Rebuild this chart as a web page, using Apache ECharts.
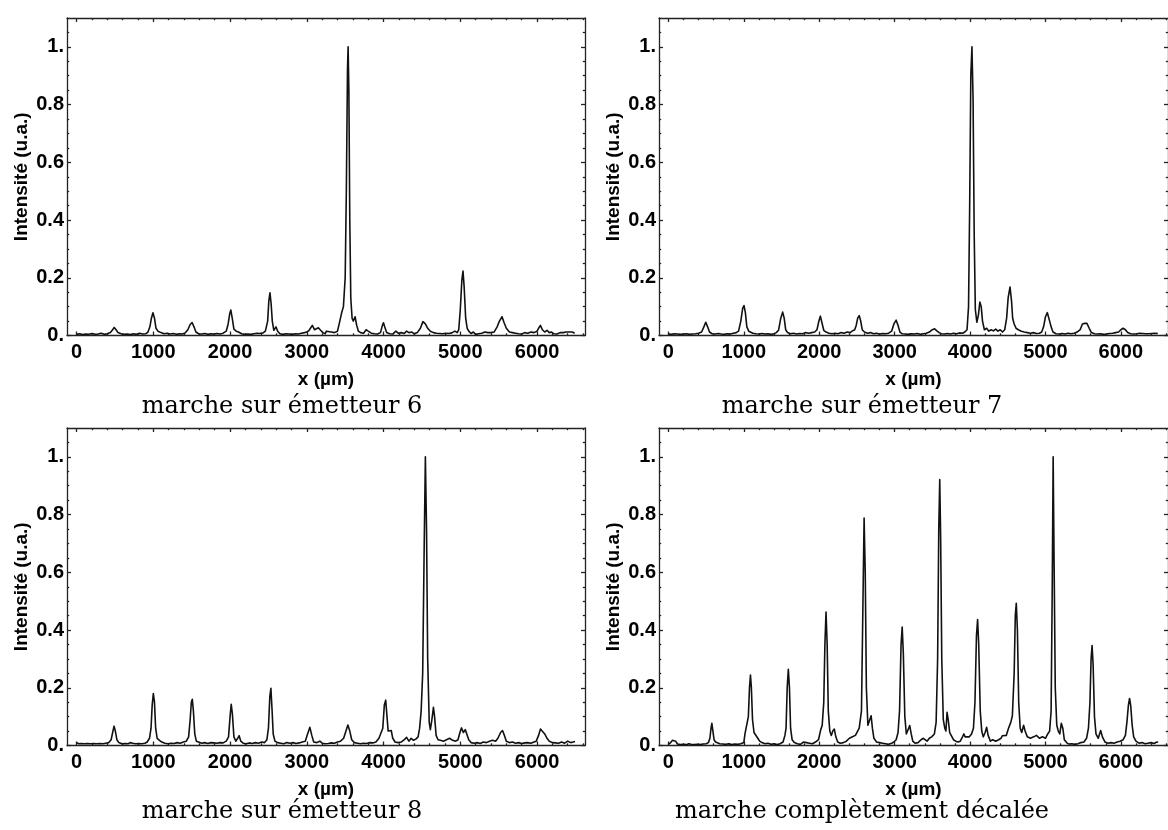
<!DOCTYPE html>
<html>
<head>
<meta charset="utf-8">
<script src="https://cdn.jsdelivr.net/npm/echarts@6/dist/echarts.min.js"></script>
<style>
  html, body { margin: 0; padding: 0; background: #fff; }
  #chart { width: 1168px; height: 830px; }
</style>
</head>
<body>
<div id="chart"></div>
<script>
// Intensity profiles along x (µm), normalised to the brightest peak.
const emetteur6 = [[0,0.004],[40,0.006],[80,0.003],[120,0.005],[160,0.004],[200,0.007],[240,0.004],[280,0.005],[320,0.008],[360,0.004],[400,0.006],[440,0.01],[470,0.02],[490,0.028],[515,0.02],[540,0.01],[580,0.006],[620,0.004],[660,0.005],[700,0.003],[740,0.006],[780,0.004],[820,0.008],[860,0.005],[900,0.006],[930,0.012],[955,0.03],[975,0.06],[995,0.079],[1015,0.06],[1035,0.025],[1060,0.015],[1080,0.018],[1100,0.01],[1140,0.006],[1180,0.008],[1220,0.005],[1260,0.007],[1300,0.004],[1340,0.006],[1380,0.005],[1420,0.01],[1450,0.02],[1480,0.038],[1505,0.045],[1530,0.03],[1555,0.012],[1590,0.006],[1630,0.005],[1670,0.007],[1710,0.004],[1750,0.006],[1790,0.005],[1830,0.007],[1870,0.005],[1910,0.008],[1950,0.015],[1975,0.04],[1995,0.075],[2010,0.088],[2028,0.06],[2050,0.022],[2080,0.015],[2110,0.012],[2150,0.006],[2190,0.004],[2230,0.005],[2270,0.004],[2310,0.006],[2350,0.008],[2390,0.007],[2430,0.009],[2460,0.015],[2490,0.05],[2505,0.12],[2520,0.148],[2535,0.11],[2550,0.05],[2570,0.018],[2598,0.03],[2620,0.015],[2650,0.006],[2690,0.004],[2730,0.006],[2770,0.005],[2810,0.004],[2850,0.006],[2890,0.005],[2930,0.008],[2970,0.01],[3000,0.012],[3030,0.018],[3072,0.035],[3100,0.02],[3150,0.027],[3180,0.018],[3210,0.01],[3240,0.006],[3255,0.015],[3280,0.01],[3320,0.012],[3360,0.01],[3400,0.015],[3430,0.05],[3455,0.08],[3477,0.1],[3500,0.2],[3515,0.5],[3530,0.92],[3538,1.0],[3548,0.85],[3560,0.4],[3573,0.13],[3590,0.06],[3605,0.05],[3629,0.065],[3650,0.035],[3672,0.015],[3700,0.01],[3740,0.008],[3773,0.02],[3800,0.015],[3840,0.008],[3880,0.006],[3920,0.005],[3960,0.01],[3985,0.035],[3999,0.044],[4015,0.03],[4040,0.01],[4080,0.006],[4120,0.005],[4160,0.015],[4190,0.008],[4230,0.01],[4270,0.007],[4300,0.015],[4330,0.01],[4370,0.012],[4400,0.006],[4440,0.01],[4480,0.025],[4513,0.048],[4545,0.04],[4575,0.025],[4610,0.015],[4650,0.01],[4690,0.008],[4730,0.007],[4770,0.006],[4810,0.008],[4850,0.007],[4890,0.009],[4930,0.015],[4960,0.01],[4980,0.02],[5000,0.09],[5020,0.19],[5035,0.223],[5050,0.17],[5070,0.06],[5090,0.025],[5110,0.015],[5140,0.007],[5170,0.012],[5200,0.004],[5240,0.006],[5280,0.008],[5320,0.012],[5360,0.01],[5400,0.01],[5440,0.012],[5480,0.03],[5510,0.05],[5544,0.065],[5570,0.045],[5600,0.025],[5640,0.012],[5680,0.01],[5720,0.008],[5760,0.006],[5800,0.005],[5840,0.01],[5880,0.008],[5920,0.012],[5960,0.01],[6000,0.015],[6020,0.025],[6044,0.035],[6070,0.02],[6100,0.012],[6130,0.018],[6160,0.01],[6190,0.012],[6220,0.006],[6260,0.005],[6300,0.01],[6340,0.01],[6380,0.012],[6420,0.012],[6460,0.012],[6490,0.008]];

const emetteur7 = [[0,0.005],[40,0.004],[80,0.006],[120,0.005],[160,0.004],[200,0.005],[240,0.006],[280,0.004],[320,0.005],[360,0.006],[400,0.008],[440,0.012],[470,0.03],[495,0.046],[520,0.03],[545,0.012],[580,0.006],[620,0.005],[660,0.007],[700,0.005],[740,0.004],[780,0.006],[820,0.005],[860,0.008],[900,0.01],[930,0.015],[960,0.05],[985,0.095],[1002,0.104],[1020,0.08],[1040,0.03],[1065,0.015],[1090,0.012],[1120,0.008],[1160,0.006],[1200,0.005],[1240,0.007],[1280,0.005],[1320,0.006],[1360,0.004],[1400,0.006],[1430,0.01],[1460,0.018],[1490,0.06],[1515,0.081],[1535,0.06],[1555,0.02],[1580,0.01],[1620,0.006],[1660,0.008],[1700,0.005],[1740,0.007],[1780,0.006],[1820,0.01],[1860,0.008],[1900,0.01],[1940,0.012],[1970,0.02],[1995,0.05],[2015,0.067],[2035,0.045],[2060,0.018],[2090,0.012],[2130,0.008],[2170,0.006],[2210,0.008],[2250,0.006],[2290,0.01],[2330,0.008],[2370,0.012],[2410,0.01],[2440,0.016],[2470,0.02],[2490,0.035],[2510,0.06],[2530,0.069],[2550,0.05],[2570,0.02],[2600,0.012],[2640,0.008],[2680,0.01],[2720,0.006],[2760,0.008],[2800,0.005],[2840,0.007],[2880,0.006],[2920,0.008],[2960,0.015],[2990,0.04],[3020,0.053],[3045,0.035],[3070,0.012],[3100,0.006],[3140,0.005],[3180,0.004],[3220,0.006],[3260,0.005],[3300,0.007],[3340,0.004],[3380,0.006],[3420,0.008],[3460,0.012],[3500,0.02],[3530,0.023],[3560,0.016],[3590,0.01],[3620,0.006],[3660,0.005],[3700,0.007],[3740,0.005],[3780,0.008],[3820,0.006],[3860,0.009],[3900,0.008],[3930,0.012],[3960,0.02],[3980,0.1],[3995,0.45],[4010,0.9],[4025,1.0],[4040,0.82],[4055,0.35],[4070,0.09],[4090,0.046],[4110,0.07],[4130,0.116],[4148,0.1],[4165,0.05],[4190,0.02],[4220,0.025],[4250,0.015],[4280,0.02],[4310,0.016],[4340,0.022],[4370,0.015],[4400,0.02],[4430,0.012],[4460,0.02],[4485,0.06],[4505,0.13],[4530,0.168],[4550,0.12],[4565,0.06],[4585,0.04],[4610,0.025],[4640,0.02],[4680,0.015],[4720,0.012],[4760,0.01],[4800,0.008],[4840,0.01],[4880,0.007],[4920,0.008],[4950,0.012],[4975,0.03],[5000,0.065],[5025,0.079],[5050,0.055],[5075,0.03],[5100,0.012],[5140,0.006],[5180,0.005],[5220,0.007],[5260,0.005],[5300,0.008],[5340,0.006],[5380,0.008],[5420,0.012],[5460,0.02],[5490,0.04],[5520,0.042],[5550,0.042],[5580,0.025],[5610,0.01],[5650,0.006],[5690,0.005],[5730,0.006],[5770,0.004],[5810,0.005],[5850,0.007],[5890,0.008],[5930,0.01],[5970,0.012],[6000,0.02],[6030,0.025],[6060,0.02],[6090,0.01],[6130,0.006],[6170,0.005],[6210,0.006],[6250,0.008],[6290,0.007],[6330,0.006],[6370,0.006],[6410,0.007],[6450,0.008],[6490,0.007]];

const emetteur8 = [[0,0.01],[30,0.006],[60,0.007],[100,0.006],[140,0.007],[180,0.006],[220,0.007],[260,0.006],[300,0.007],[340,0.006],[380,0.008],[420,0.01],[450,0.02],[470,0.045],[488,0.067],[505,0.05],[525,0.02],[550,0.01],[590,0.006],[630,0.007],[670,0.006],[700,0.01],[730,0.008],[770,0.006],[810,0.007],[850,0.006],[890,0.008],[920,0.012],[950,0.025],[970,0.06],[985,0.14],[1000,0.18],[1015,0.15],[1030,0.06],[1050,0.025],[1080,0.018],[1110,0.012],[1150,0.008],[1190,0.006],[1230,0.008],[1270,0.007],[1310,0.01],[1350,0.008],[1390,0.012],[1430,0.015],[1460,0.03],[1480,0.09],[1495,0.15],[1508,0.16],[1522,0.12],[1540,0.04],[1560,0.015],[1590,0.012],[1630,0.008],[1670,0.01],[1710,0.007],[1750,0.01],[1790,0.009],[1830,0.008],[1870,0.01],[1910,0.009],[1950,0.015],[1980,0.03],[2000,0.1],[2015,0.143],[2030,0.11],[2050,0.03],[2075,0.015],[2100,0.025],[2118,0.034],[2140,0.015],[2170,0.008],[2210,0.006],[2250,0.009],[2290,0.007],[2330,0.01],[2370,0.008],[2410,0.012],[2450,0.01],[2480,0.02],[2500,0.06],[2518,0.17],[2532,0.198],[2546,0.13],[2562,0.04],[2585,0.015],[2620,0.01],[2660,0.008],[2700,0.006],[2740,0.01],[2780,0.008],[2820,0.01],[2860,0.007],[2900,0.009],[2940,0.012],[2980,0.015],[3010,0.04],[3040,0.063],[3065,0.035],[3090,0.012],[3130,0.01],[3170,0.015],[3200,0.008],[3240,0.006],[3280,0.007],[3320,0.009],[3360,0.008],[3400,0.012],[3440,0.015],[3480,0.025],[3510,0.05],[3535,0.071],[3560,0.05],[3585,0.02],[3620,0.01],[3660,0.008],[3700,0.006],[3740,0.008],[3780,0.007],[3820,0.01],[3860,0.009],[3900,0.012],[3940,0.025],[3965,0.02],[3990,0.06],[4010,0.14],[4028,0.157],[4045,0.1],[4060,0.05],[4080,0.045],[4100,0.052],[4120,0.025],[4150,0.012],[4190,0.01],[4230,0.012],[4270,0.02],[4300,0.028],[4330,0.015],[4360,0.025],[4390,0.018],[4420,0.022],[4450,0.03],[4470,0.06],[4490,0.12],[4510,0.25],[4530,0.7],[4545,1.0],[4560,0.75],[4575,0.3],[4595,0.08],[4610,0.055],[4630,0.09],[4650,0.132],[4665,0.1],[4685,0.035],[4710,0.02],[4740,0.018],[4780,0.015],[4820,0.02],[4860,0.025],[4900,0.018],[4940,0.015],[4970,0.02],[4995,0.045],[5015,0.061],[5040,0.045],[5065,0.055],[5085,0.05],[5110,0.02],[5140,0.01],[5180,0.008],[5220,0.01],[5260,0.007],[5300,0.012],[5340,0.01],[5380,0.015],[5420,0.018],[5460,0.015],[5490,0.025],[5525,0.045],[5550,0.052],[5575,0.035],[5600,0.015],[5640,0.01],[5680,0.012],[5720,0.008],[5760,0.01],[5800,0.007],[5840,0.009],[5880,0.01],[5920,0.008],[5960,0.012],[5990,0.015],[6020,0.035],[6045,0.057],[6070,0.055],[6100,0.04],[6130,0.025],[6160,0.015],[6200,0.01],[6240,0.009],[6280,0.008],[6320,0.012],[6360,0.008],[6400,0.015],[6440,0.01],[6470,0.012],[6495,0.014]];

const decalee = [[0,0.004],[30,0.01],[55,0.018],[73,0.02],[95,0.015],[120,0.005],[160,0.003],[200,0.004],[240,0.003],[270,0.006],[300,0.004],[340,0.003],[380,0.004],[420,0.003],[460,0.005],[500,0.006],[530,0.01],[550,0.025],[565,0.06],[576,0.077],[590,0.05],[605,0.02],[625,0.012],[650,0.01],[680,0.006],[720,0.005],[760,0.004],[800,0.006],[840,0.003],[880,0.005],[920,0.004],[960,0.006],[1000,0.01],[1015,0.04],[1040,0.045],[1060,0.1],[1075,0.2],[1088,0.244],[1100,0.2],[1115,0.09],[1135,0.045],[1161,0.04],[1185,0.025],[1210,0.015],[1240,0.01],[1280,0.006],[1320,0.008],[1360,0.004],[1400,0.006],[1440,0.003],[1480,0.006],[1520,0.012],[1545,0.035],[1560,0.06],[1575,0.2],[1590,0.264],[1605,0.2],[1620,0.06],[1640,0.02],[1670,0.01],[1710,0.006],[1750,0.004],[1790,0.012],[1830,0.01],[1870,0.008],[1910,0.006],[1950,0.012],[1990,0.02],[2020,0.055],[2039,0.069],[2060,0.15],[2075,0.35],[2090,0.462],[2105,0.35],[2120,0.12],[2140,0.05],[2160,0.035],[2180,0.05],[2200,0.057],[2220,0.03],[2245,0.012],[2280,0.008],[2320,0.01],[2360,0.015],[2400,0.025],[2440,0.03],[2480,0.035],[2502,0.04],[2530,0.06],[2560,0.12],[2580,0.5],[2595,0.788],[2610,0.6],[2625,0.2],[2645,0.07],[2660,0.075],[2688,0.103],[2705,0.06],[2725,0.025],[2760,0.012],[2800,0.01],[2840,0.008],[2880,0.006],[2920,0.004],[2960,0.008],[2990,0.012],[3020,0.02],[3045,0.045],[3065,0.12],[3085,0.35],[3100,0.41],[3115,0.32],[3135,0.1],[3155,0.04],[3175,0.035],[3200,0.069],[3220,0.04],[3240,0.015],[3270,0.008],[3310,0.01],[3350,0.02],[3380,0.025],[3405,0.029],[3430,0.015],[3460,0.025],[3490,0.03],[3527,0.04],[3550,0.08],[3570,0.3],[3585,0.75],[3598,0.921],[3610,0.72],[3625,0.3],[3645,0.09],[3665,0.06],[3680,0.05],[3695,0.115],[3710,0.09],[3730,0.045],[3755,0.045],[3780,0.02],[3810,0.015],[3840,0.012],[3870,0.015],[3900,0.03],[3917,0.04],[3935,0.03],[3960,0.025],[3990,0.03],[4020,0.04],[4045,0.06],[4065,0.15],[4085,0.38],[4100,0.436],[4115,0.35],[4135,0.12],[4155,0.05],[4175,0.03],[4200,0.045],[4220,0.063],[4240,0.035],[4270,0.015],[4300,0.02],[4340,0.015],[4380,0.02],[4410,0.025],[4429,0.034],[4450,0.03],[4480,0.035],[4510,0.06],[4540,0.08],[4561,0.103],[4585,0.25],[4600,0.45],[4613,0.493],[4628,0.4],[4645,0.15],[4665,0.06],[4685,0.045],[4710,0.07],[4730,0.05],[4760,0.03],[4800,0.025],[4844,0.03],[4880,0.035],[4920,0.025],[4960,0.03],[5000,0.025],[5030,0.04],[5055,0.05],[5075,0.12],[5090,0.55],[5102,1.0],[5115,0.62],[5130,0.2],[5150,0.07],[5170,0.05],[5190,0.04],[5210,0.077],[5230,0.06],[5250,0.02],[5280,0.01],[5310,0.005],[5350,0.006],[5390,0.004],[5430,0.006],[5470,0.01],[5510,0.012],[5545,0.025],[5570,0.06],[5590,0.15],[5605,0.3],[5618,0.346],[5632,0.28],[5650,0.1],[5670,0.04],[5700,0.025],[5732,0.052],[5755,0.03],[5790,0.012],[5830,0.008],[5870,0.01],[5910,0.008],[5950,0.012],[5990,0.015],[6030,0.02],[6060,0.035],[6080,0.08],[6100,0.14],[6115,0.163],[6130,0.14],[6150,0.07],[6170,0.03],[6200,0.015],[6240,0.008],[6280,0.01],[6320,0.006],[6360,0.008],[6400,0.01],[6440,0.007],[6470,0.011],[6495,0.012]];

const panelData = [emetteur6, emetteur7, emetteur8, decalee];
const panelTitles = ['marche sur émetteur 6', 'marche sur émetteur 7', 'marche sur émetteur 8', 'marche complètement décalée'];

// Tick positions and labels
const xMajorTicks = [0, 1000, 2000, 3000, 4000, 5000, 6000];
const xMinorTicks = [200, 400, 600, 800, 1200, 1400, 1600, 1800, 2200, 2400, 2600, 2800, 3200, 3400, 3600, 3800, 4200, 4400, 4600, 4800, 5200, 5400, 5600, 5800, 6200, 6400, 6600];
const yMajorTicks = [0, 0.2, 0.4, 0.6, 0.8, 1];
const yMajorLabels = ['0.', '0.2', '0.4', '0.6', '0.8', '1.'];
const yMinorTicks = [0.05, 0.1, 0.15, 0.25, 0.3, 0.35, 0.45, 0.5, 0.55, 0.65, 0.7, 0.75, 0.85, 0.9, 0.95, 1.05];
const xAxisTitle = 'x (µm)';
const yAxisTitle = 'Intensité (u.a.)';

// Panel frames in pixels
const frames = [
  { left: 67, top: 18, title: [282, 407] },
  { left: 659, top: 18, title: [862, 407] },
  { left: 67, top: 428, title: [282, 812] },
  { left: 659, top: 428, title: [862, 812] }
];
const FRAME_W = 518, FRAME_H = 317.5;
const X_MIN = -125, X_MAX = 6625, Y_MIN = 0, Y_MAX = 1.1;

const ink = '#111';
const frameLine = { color: '#222', width: 1.3 };
const sansFamily = '"Liberation Sans", Arial, Helvetica, sans-serif';
const tickFont = { fontFamily: sansFamily, fontWeight: 'bold', fontSize: 20, color: '#000' };
const nameFont = { fontFamily: sansFamily, fontWeight: 'bold', fontSize: 19, color: '#000' };

const grids = [], xAxes = [], yAxes = [], series = [], graphics = [];

frames.forEach((f, g) => {
  grids.push({ left: f.left, top: f.top, width: FRAME_W, height: FRAME_H, containLabel: false });

  const xBase = { gridIndex: g, type: 'value', min: X_MIN, max: X_MAX, splitLine: { show: false } };
  const yBase = { gridIndex: g, type: 'value', min: Y_MIN, max: Y_MAX, splitLine: { show: false } };

  // bottom: frame, major ticks with labels, axis title
  xAxes.push(Object.assign({}, xBase, {
    position: 'bottom',
    axisLine: { show: true, onZero: false, lineStyle: frameLine },
    axisTick: { show: true, inside: true, length: 4, customValues: xMajorTicks, lineStyle: frameLine },
    axisLabel: Object.assign({
      show: true, customValues: xMajorTicks, margin: 7, showMinLabel: true, showMaxLabel: true,
      formatter: v => String(Math.round(v))
    }, tickFont),
    name: xAxisTitle, nameLocation: 'middle', nameGap: 35, nameTextStyle: nameFont
  }));
  // bottom: minor ticks
  xAxes.push(Object.assign({}, xBase, {
    position: 'bottom',
    axisLine: { show: false, onZero: false },
    axisTick: { show: true, inside: true, length: 2.2, customValues: xMinorTicks, lineStyle: frameLine },
    axisLabel: { show: false }
  }));
  // top: frame and ticks
  xAxes.push(Object.assign({}, xBase, {
    position: 'top',
    axisLine: { show: true, onZero: false, lineStyle: frameLine },
    axisTick: { show: true, inside: true, length: 4, customValues: xMajorTicks, lineStyle: frameLine },
    axisLabel: { show: false }
  }));
  xAxes.push(Object.assign({}, xBase, {
    position: 'top',
    axisLine: { show: false, onZero: false },
    axisTick: { show: true, inside: true, length: 2.2, customValues: xMinorTicks, lineStyle: frameLine },
    axisLabel: { show: false }
  }));

  // left: frame, ticks, labels and title
  yAxes.push(Object.assign({}, yBase, {
    position: 'left',
    axisLine: { show: true, onZero: false, lineStyle: frameLine },
    axisTick: { show: true, inside: true, length: 4, customValues: yMajorTicks, lineStyle: frameLine },
    axisLabel: Object.assign({
      show: true, customValues: yMajorTicks, margin: 3, showMinLabel: true, showMaxLabel: true,
      formatter: v => yMajorLabels[yMajorTicks.findIndex(t => Math.abs(t - v) < 1e-9)]
    }, tickFont),
    name: yAxisTitle, nameLocation: 'middle', nameRotate: 90, nameGap: 36, nameTextStyle: nameFont
  }));
  yAxes.push(Object.assign({}, yBase, {
    position: 'left',
    axisLine: { show: false, onZero: false },
    axisTick: { show: true, inside: true, length: 2.2, customValues: yMinorTicks, lineStyle: frameLine },
    axisLabel: { show: false }
  }));
  // right: frame and ticks
  yAxes.push(Object.assign({}, yBase, {
    position: 'right',
    axisLine: { show: true, onZero: false, lineStyle: frameLine },
    axisTick: { show: true, inside: true, length: 4, customValues: yMajorTicks, lineStyle: frameLine },
    axisLabel: { show: false }
  }));
  yAxes.push(Object.assign({}, yBase, {
    position: 'right',
    axisLine: { show: false, onZero: false },
    axisTick: { show: true, inside: true, length: 2.2, customValues: yMinorTicks, lineStyle: frameLine },
    axisLabel: { show: false }
  }));

  series.push({
    type: 'line',
    xAxisIndex: g * 4,
    yAxisIndex: g * 4,
    data: panelData[g],
    showSymbol: false,
    symbol: 'none',
    clip: true,
    lineStyle: { color: ink, width: 1.6, join: 'round' },
    animation: false
  });

  graphics.push({
    type: 'text',
    x: f.title[0],
    y: f.title[1],
    style: {
      text: panelTitles[g],
      fontFamily: '"DejaVu Serif", serif',
      fontSize: 24,
      fill: '#000',
      align: 'center',
      verticalAlign: 'middle'
    }
  });
});

const chart = echarts.init(document.getElementById('chart'), null, { renderer: 'canvas' });
chart.setOption({
  animation: false,
  backgroundColor: '#fff',
  grid: grids,
  xAxis: xAxes,
  yAxis: yAxes,
  series: series,
  graphic: graphics
});
</script>
</body>
</html>
